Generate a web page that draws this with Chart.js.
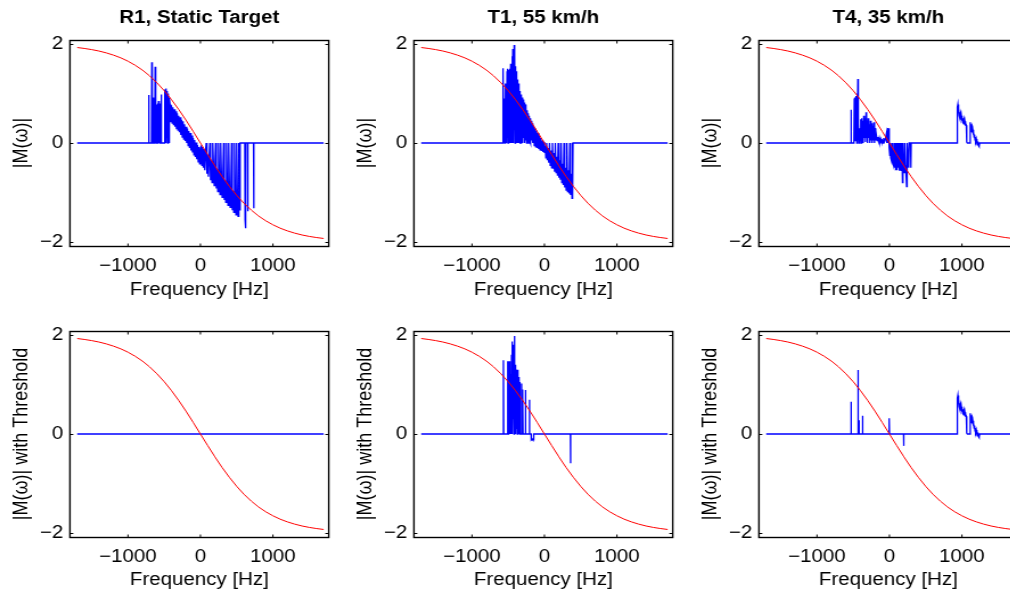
<!DOCTYPE html>
<html>
<head>
<meta charset="utf-8">
<script src="https://cdn.jsdelivr.net/npm/chart.js@4.4.1/dist/chart.umd.min.js"></script>
<style>
  html, body { margin: 0; padding: 0; background: #fff; overflow: hidden; }
  body { width: 1010px; height: 593px; position: relative; }
  canvas { position: absolute; }
</style>
</head>
<body>
<canvas id="c1"></canvas>
<canvas id="c2"></canvas>
<canvas id="c3"></canvas>
<canvas id="c4"></canvas>
<canvas id="c5"></canvas>
<canvas id="c6"></canvas>
<script>
// Axis ticks
const xTicks = [-1000, 0, 1000];
const yTicks = [-2, 0, 2];

// Red reference curve (same in all panels)
const curveFreq = [-1700, -1600, -1500, -1400, -1300, -1200, -1100, -1000, -900, -800, -700, -600, -500, -400, -300, -200, -100,
  0, 100, 200, 300, 400, 500, 600, 700, 800, 900, 1000, 1100, 1200, 1300, 1400, 1500, 1600, 1700];
const curveMag = [1.928, 1.909, 1.886, 1.857, 1.820, 1.775, 1.720, 1.652, 1.570, 1.472, 1.354, 1.216, 1.057, 0.877, 0.678, 0.462, 0.234,
  0, -0.234, -0.462, -0.678, -0.877, -1.057, -1.216, -1.354, -1.472, -1.570, -1.652, -1.720, -1.775, -1.820, -1.857, -1.886, -1.909, -1.928];

// R1, static target
const r1Freq = [-1700, -716, -713, -710, -675, -671, -667, -662, -657, -652, -648, -644, -630, -625, -620, -614, -608, -602, -596, -590,
  -584, -578, -572, -566, -560, -554, -548, -542, -536, -500,
  -497, -492, -487, -482, -477, -472, -467, -462, -457, -452, -447, -442, -437, -432, -427,
  -420, -410, -400, -390, -380, -370, -360, -350, -340, -330, -320, -310, -300, -290, -280, -270, -260, -250, -240, -230, -220,
  -210, -200, -190, -180, -170, -160, -150, -140, -130, -120, -110, -100, -90, -80, -70, -60, -50, -40, -30, -20, -10, 0,
  10, 20, 30, 40, 50, 60, 70, 80, 90, 100, 110, 120, 130, 140, 150, 160, 170, 180, 190, 200, 210, 220, 230, 240, 250, 260, 270,
  280, 290, 300, 310, 320, 330, 340, 350, 360, 370, 380, 390, 400, 410, 420, 430, 440, 450, 460, 470, 480, 490, 500, 510, 520,
  530, 540, 548, 612, 616, 621, 626, 650, 653, 656, 732, 735, 738, 1700];
const r1Mag = [0, 0, 0.97, 0, 0, 1.63, 0, 0.9, 0, 0.92, 0, 0, 0, 1.54, 0, 0.82, 0, 0.78, 0, 0.8,
  0, 0.85, 0, 0.76, 0, 0.8, 0, 0.98, 0, 0,
  1.0, 0, 1.08, 0.05, 1.1, 0, 1.05, 0.1, 0.98, 0, 1.0, 0.1, 0.92, 0, 0.9,
  0.78, 0.42, 0.76, 0.40, 0.72, 0.36, 0.68, 0.33, 0.64, 0.28, 0.60, 0.26, 0.55, 0.22, 0.52, 0.16, 0.47, 0.12, 0.44, 0.08, 0.38,
  0.04, 0.33, 0.0, 0.29, -0.05, 0.24, -0.1, 0.2, -0.15, 0.15, -0.19, 0.1, -0.24, 0.06, -0.28, 0.01, -0.33, -0.04, -0.38, -0.08, -0.42, -0.13,
  -0.05, -0.45, -0.08, -0.5, -0.12, -0.55, -0.16, 0, -0.62, -0.24, -0.68, -0.28, 0, -0.75, -0.36, -0.8, 0, -0.42, -0.86, -0.47, 0, -0.92, -0.53, -0.98, 0, -0.6, -1.04,
  0, -0.65, -1.1, -0.72, 0, -1.15, -0.76, -1.2, 0, -0.82, -1.26, 0, -0.88, -1.3, -0.92, 0, -1.36, -0.97, -1.4, 0, -1.02, -1.45, 0, -1.06, -1.48,
  0, -1.35, 0, 0, -1.55, -1.72, 0, 0, -1.38, 0, 0, -1.32, 0, 0];

// T1, 55 km/h
const t1Freq = [-1700, -579, -575, -571, -567, -563, -560, -552, -548, -540, -536, -528, -524, -516, -512, -506, -502, -496, -492, -486,
  -482, -476, -472, -466, -462, -456, -452, -446, -442, -437, -433, -428, -424, -418, -414, -409, -405, -400, -396, -390,
  -386, -380, -376, -370, -366, -360, -356, -350, -346, -340, -336, -325,
  -322, -315, -308, -301, -294, -287, -280, -273, -266, -259, -252, -245, -238, -231, -224, -217, -210, -203, -196, -189, -182, -175, -168, -161,
  -150, -140, -130, -120, -110, -100, -90, -80, -70, -60, -50, -40, -30, -20, -10, 0,
  10, 20, 30, 40, 50, 60, 70, 80, 90, 100, 110, 120, 130, 140, 150, 160, 170, 180, 190, 200, 210, 220, 230, 240, 250, 260, 270,
  280, 290, 300, 310, 320, 330, 340, 350, 360, 370, 380, 386, 390, 394, 1700];
const t1Mag = [0, 0, 1.51, 0, 1.48, 0.2, 0, 0.9, 0, 1.2, 0.1, 1.1, 0, 1.45, 0.2, 1.5, 0, 1.48, 0.3, 1.35,
  0, 1.5, 0.2, 1.6, 0, 1.45, 0.3, 1.75, 0, 1.9, 0.2, 1.65, 0, 1.98, 0.3, 1.8, 0, 1.55, 0.2, 1.45,
  0, 1.35, 0.2, 1.28, 0, 1.2, 0.3, 1.15, 0, 1.05, 0, 0,
  0.98, 0.05, 0.92, 0.0, 0.88, 0.1, 0.82, 0.0, 0.78, 0.05, 0.72, 0.0, 0.66, 0.05, 0.6, 0.0, 0.55, 0.05, 0.5, 0.0, 0.45, 0.05, 0.4, 0.0,
  0.35, -0.05, 0.3, -0.08, 0.25, -0.1, 0.2, -0.12, 0.15, -0.14, 0.1, -0.16, 0.05, -0.18, 0.02, -0.2,
  -0.05, -0.3, 0, -0.35, -0.1, -0.4, 0, -0.45, -0.15, -0.5, 0, -0.52, -0.2, -0.58, 0, -0.6, -0.28, -0.66, 0, -0.7, -0.35, -0.74, 0, -0.8, -0.42, -0.85, 0,
  -0.9, -0.5, -0.95, 0, -0.98, -0.55, -1.02, 0, -1.05, -0.62, -1.12, 0, -1.08, 0, 0];

// T4, 35 km/h (low band)
const t4Freq = [-1700, -532, -529, -526, -490, -485, -480, -475, -470, -465, -460, -455, -450, -445, -440, -436, -432, -428, -420, -412,
  -404, -396, -390, -384, -378, -370, -362, -354, -346, -338, -330, -322, -316, -310, -302, -294, -286, -278, -270, -262,
  -254, -246, -238, -230, -222, -214, -206, -198, -190, -180, -170, -160, -150, -140, -130, -120, -110, -100, -90, -80,
  -70, -60, -40, -35, -25, -18, -12, -6, 0, 6, 12, 18, 24, 30, 36, 42, 48, 54, 60, 66,
  72, 78, 84, 90, 96, 102, 108, 114, 120, 126, 132, 138, 144, 150, 160, 170, 180, 186, 196, 206,
  212, 222, 232, 238, 244, 256, 266, 272, 292, 296, 300];
const t4Mag = [0, 0, 0.67, 0, 0, 0.9, 0.1, 0.92, 0.05, 0.9, 0.2, 0.95, 0, 1.0, 0.3, 1.29, 0.1, 0.4, 0, 0.3,
  0.05, 0.48, 0, 0.5, 0.1, 0.45, 0, 0.55, 0.1, 0.5, 0.02, 0.62, 0.1, 0.45, 0, 0.5, 0.1, 0.38, 0, 0.45,
  0.05, 0.4, 0, 0.35, 0.05, 0.42, 0, 0.3, 0.05, 0.15, 0.05, 0.12, 0.03, 0.1, 0.02, 0.08, 0.03, 0.05, 0, 0.1,
  0.02, 0.05, 0.2, 0, 0.3, 0, 0.3, 0, -0.1, -0.25, 0, -0.3, -0.1, -0.35, 0, -0.2, -0.4, -0.15, -0.45, 0,
  -0.3, -0.5, -0.2, -0.55, 0, -0.35, -0.55, -0.2, -0.5, 0, -0.3, -0.56, 0, -0.35, -0.55, 0, -0.8, 0, -0.4, -0.6,
  0, -0.45, -0.7, -0.88, 0, -0.3, -0.5, 0, 0, -0.5, 0];

// T4 high band (same in both T4 panels)
const t4HighFreq = [930, 937, 944, 950, 956, 962, 968, 974, 980, 986, 992, 998, 1004, 1010, 1016, 1022, 1028, 1034, 1040, 1046,
  1052, 1060, 1066, 1075, 1110, 1115, 1120, 1126, 1132, 1138, 1144, 1150, 1156, 1162, 1168, 1174, 1180, 1186, 1192, 1198,
  1204, 1210, 1216, 1222, 1228, 1234, 1240, 1245, 1700];
const t4HighMag = [0, 0.72, 0.78, 0.6, 0.7, 0.55, 0.62, 0.5, 0.58, 0.47, 0.55, 0.45, 0.52, 0.42, 0.5, 0.4, 0.47, 0.38, 0.44, 0.35,
  0.4, 0.36, 0.02, 0, 0, 0.42, 0.32, 0.38, 0.28, 0.33, 0.22, 0.27, 0.17, 0.22, 0.12, 0.17, 0.07, 0.12, 0.03, 0.08,
  -0.01, 0.05, -0.03, 0.03, -0.05, 0, -0.07, 0, 0];

// With threshold
const r1ThrFreq = [-1700, 1700];
const r1ThrMag = [0, 0];

const t1ThrFreq = [-1700, -570, -566, -562, -510, -506, -502, -496, -492, -486, -482, -476, -472, -466, -460, -454, -450, -444, -440, -436,
  -432, -426, -420, -414, -410, -404, -398, -392, -386, -380, -374, -368, -362, -356, -350, -344, -338, -318, -315, -310,
  -303, -299, -295, -264, -262, -258, -210, -207, -204, -184, -182, -170, -160, -150, -148, 358, 360, 362, 1700];
const t1ThrMag = [0, 0, 1.49, 0, 0, 1.47, 0, 1.47, 0.2, 1.4, 0, 1.47, 0.1, 1.2, 0, 1.6, 0.2, 1.87, 0, 1.8,
  0.3, 1.5, 0, 1.98, 0.2, 1.4, 0, 1.3, 0.1, 1.22, 0, 1.3, 0.2, 1.15, 0, 1.05, 0, 0, 1.02, 0,
  0, 0.9, 0, 0, 0.89, 0, 0, 0.69, 0, 0, -0.12, -0.1, -0.12, -0.12, 0, 0, -0.59, 0, 0];

const t4ThrFreq = [-1700, -531, -529, -527, -435, -433, -431, -422, -420, -418, -372, -370, -368, -8, -6, -3, -1, 1, 195, 197, 199];
const t4ThrMag = [0, 0, 0.65, 0, 0, 1.29, 0, 0, 0.28, 0, 0, 0.37, 0, 0, 0.32, 0.1, 0.32, 0, 0, -0.24, 0];

const FONT = 'Liberation Sans, Arial, Helvetica, sans-serif';
const tickFont = { family: FONT, size: 18 };

// The original figure is stretched sideways: draw narrow, show wide
const STRETCH = 1.14;
const CANVAS_W = 302;
const Y_AXIS_W = 70 / STRETCH;
const AREA_W = 259 / STRETCH;

function toPoints(freq, mag) {
    return freq.map((f, i) => ({ x: f, y: mag[i] }));
}

function fmt(v) {
    return v < 0 ? '\u2212' + Math.abs(v) : String(v);
}

// Box outline, inward tick marks and bold panel title
const boxPlugin = {
    id: 'box',
    afterDatasetsDraw(chart, args, opts) {
        const { ctx, chartArea: a, scales: { x, y } } = chart;
        ctx.save();
        ctx.strokeStyle = '#000';
        ctx.lineWidth = 1.4;
        const t = Math.round(a.top) + 0.5, b = Math.round(a.bottom) + 0.5;
        ctx.strokeRect(a.left, t, a.right - a.left, b - t);
        ctx.lineWidth = 1;
        ctx.beginPath();
        xTicks.forEach(v => {
            const px = x.getPixelForValue(v);
            ctx.moveTo(px, b); ctx.lineTo(px, b - 3);
            ctx.moveTo(px, t); ctx.lineTo(px, t + 3);
        });
        yTicks.forEach(v => {
            const py = Math.round(y.getPixelForValue(v)) + 0.5;
            ctx.moveTo(a.left, py); ctx.lineTo(a.left + 3, py);
            ctx.moveTo(a.right, py); ctx.lineTo(a.right - 3, py);
        });
        ctx.stroke();
        if (opts.title) {
            ctx.fillStyle = '#000';
            ctx.font = 'bold 18px ' + FONT;
            ctx.textAlign = 'center';
            ctx.textBaseline = 'alphabetic';
            ctx.fillText(opts.title, (a.left + a.right) / 2, 23);
        }
        ctx.restore();
    }
};

const panels = [
    { id: 'c1', left: 0, top: 0, h: 305, padTop: 40, title: 'R1, Static Target', yTitle: '|M(\u03c9)|', freq: r1Freq, mag: r1Mag },
    { id: 'c2', left: 344, top: 0, h: 305, padTop: 40, title: 'T1, 55 km/h', yTitle: '|M(\u03c9)|', freq: t1Freq, mag: t1Mag },
    { id: 'c3', left: 689, top: 0, h: 305, padTop: 40, title: 'T4, 35 km/h', yTitle: '|M(\u03c9)|',
      freq: t4Freq.concat(t4HighFreq), mag: t4Mag.concat(t4HighMag) },
    { id: 'c4', left: 0, top: 290, h: 303, padTop: 41, title: '', yTitle: '|M(\u03c9)| with Threshold', freq: r1ThrFreq, mag: r1ThrMag },
    { id: 'c5', left: 344, top: 290, h: 303, padTop: 41, title: '', yTitle: '|M(\u03c9)| with Threshold', freq: t1ThrFreq, mag: t1ThrMag },
    { id: 'c6', left: 689, top: 290, h: 303, padTop: 41, title: '', yTitle: '|M(\u03c9)| with Threshold',
      freq: t4ThrFreq.concat(t4HighFreq), mag: t4ThrMag.concat(t4HighMag) }
];

panels.forEach(p => {
    const canvas = document.getElementById(p.id);
    canvas.width = CANVAS_W;
    canvas.height = p.h;
    canvas.style.width = (CANVAS_W * STRETCH) + 'px';
    canvas.style.height = p.h + 'px';
    canvas.style.left = p.left + 'px';
    canvas.style.top = p.top + 'px';
    const xAxisH = p.h - p.padTop - 206;

    new Chart(canvas.getContext('2d'), {
        type: 'line',
        data: {
            datasets: [
                {
                    data: toPoints(curveFreq, curveMag),
                    borderColor: '#ff0000',
                    borderWidth: 1,
                    pointRadius: 0,
                    tension: 0
                },
                {
                    data: toPoints(p.freq, p.mag),
                    borderColor: '#0000ff',
                    borderWidth: 1.3,
                    pointRadius: 0,
                    tension: 0
                }
            ]
        },
        options: {
            responsive: false,
            animation: false,
            devicePixelRatio: 1,
            events: [],
            layout: { padding: { top: p.padTop, left: 0, right: CANVAS_W - Y_AXIS_W - AREA_W, bottom: 0 } },
            plugins: {
                legend: { display: false },
                tooltip: { enabled: false },
                box: { title: p.title }
            },
            scales: {
                x: {
                    type: 'linear',
                    min: -1800,
                    max: 1770,
                    afterBuildTicks: s => { s.ticks = xTicks.map(v => ({ value: v })); },
                    afterFit: s => { s.height = xAxisH; s.paddingLeft = 0; s.paddingRight = 0; },
                    grid: { display: false, drawTicks: false },
                    border: { display: false },
                    ticks: { color: '#000', font: tickFont, padding: 9, maxRotation: 0, autoSkip: false, callback: fmt },
                    title: { display: true, text: 'Frequency [Hz]', color: '#000', font: tickFont, padding: { top: 0, bottom: p.top ? 2 : 4 } }
                },
                y: {
                    type: 'linear',
                    min: -2.08,
                    max: 2.08,
                    afterBuildTicks: s => { s.ticks = yTicks.map(v => ({ value: v })); },
                    afterFit: s => { s.width = Y_AXIS_W; s.paddingTop = 0; s.paddingBottom = 0; },
                    grid: { display: false, drawTicks: false },
                    border: { display: false },
                    ticks: { color: '#000', font: tickFont, padding: 6, callback: fmt },
                    title: { display: true, text: p.yTitle, color: '#000', font: tickFont, padding: { top: 8.5, bottom: 0 } }
                }
            }
        },
        plugins: [boxPlugin]
    });
});
</script>
</body>
</html>
